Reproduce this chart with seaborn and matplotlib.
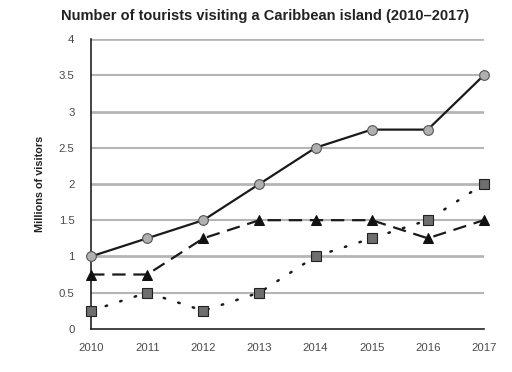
import matplotlib
matplotlib.use("Agg")
import matplotlib.pyplot as plt
import seaborn as sns
import pandas as pd

years = [2010, 2011, 2012, 2013, 2014, 2015, 2016, 2017]
circle_vals = [1.0, 1.25, 1.5, 2.0, 2.5, 2.75, 2.75, 3.5]
triangle_vals = [0.75, 0.75, 1.25, 1.5, 1.5, 1.5, 1.25, 1.5]
square_vals = [0.25, 0.5, 0.25, 0.5, 1.0, 1.25, 1.5, 2.0]
y_ticks = [0, 0.5, 1, 1.5, 2, 2.5, 3, 3.5, 4]
y_tick_labels = ["0", "0.5", "1", "1.5", "2", "2.5", "3", "3.5", "4"]

sns.set_style("white")
plt.rcParams['font.family'] = ['Liberation Sans', 'DejaVu Sans']

fig = plt.figure(figsize=(5.12, 3.72), dpi=100)
ax = fig.add_axes([0.178, 0.116, 0.767, 0.779])

# gridlines
for t in y_ticks[1:]:
    lw = 2.0 if float(t).is_integer() else 1.5
    ax.axhline(t, color="#b5b5b5", lw=lw, zorder=0)

df = pd.DataFrame({"year": years, "c": circle_vals, "t": triangle_vals, "s": square_vals})

sns.lineplot(data=df, x="year", y="c", ax=ax, color="#1a1a1a", lw=1.6,
             marker="o", markersize=7, markerfacecolor="#b0b0b0",
             markeredgecolor="#555555", markeredgewidth=0.8, clip_on=False, zorder=3)
sns.lineplot(data=df, x="year", y="t", ax=ax, color="#1a1a1a", lw=1.6,
             marker="^", markersize=7.5, markerfacecolor="#111111",
             markeredgecolor="#111111", clip_on=False, zorder=3)
ax.lines[-1].set_dashes([6, 3.5])
sns.lineplot(data=df, x="year", y="s", ax=ax, color="#1a1a1a", lw=1.8,
             marker="s", markersize=7, markerfacecolor="#6e6e6e",
             markeredgecolor="#222222", markeredgewidth=0.8, clip_on=False, zorder=3)
ax.lines[-1].set_dashes([0.6, 5.5])
ax.lines[-1].set_dash_capstyle("round")

ax.set_xlim(2010, 2017)
ax.set_ylim(0, 4)
ax.set_xticks(years)
ax.set_xticklabels([str(y) for y in years])
ax.set_yticks(y_ticks)
ax.set_yticklabels(y_tick_labels)
ax.tick_params(axis="both", labelsize=8.2, labelcolor="#4a4a4a", length=5,
               width=1, color="#222222", direction="out")
ax.tick_params(axis="y", pad=7)
ax.tick_params(axis="x", pad=5)

for side in ["top", "right"]:
    ax.spines[side].set_visible(False)
for side in ["left", "bottom"]:
    ax.spines[side].set_color("#222222")
    ax.spines[side].set_linewidth(1.2)

ax.set_xlabel("")
ax.set_ylabel("Millions of visitors", fontsize=7.8, fontweight="bold", color="#222222", labelpad=10)
fig.suptitle("Number of tourists visiting a Caribbean island (2010\u20132017)",
             fontsize=10.5, fontweight="bold", color="#222222", x=0.518, y=0.975)

fig.savefig("out.png", dpi=100)
